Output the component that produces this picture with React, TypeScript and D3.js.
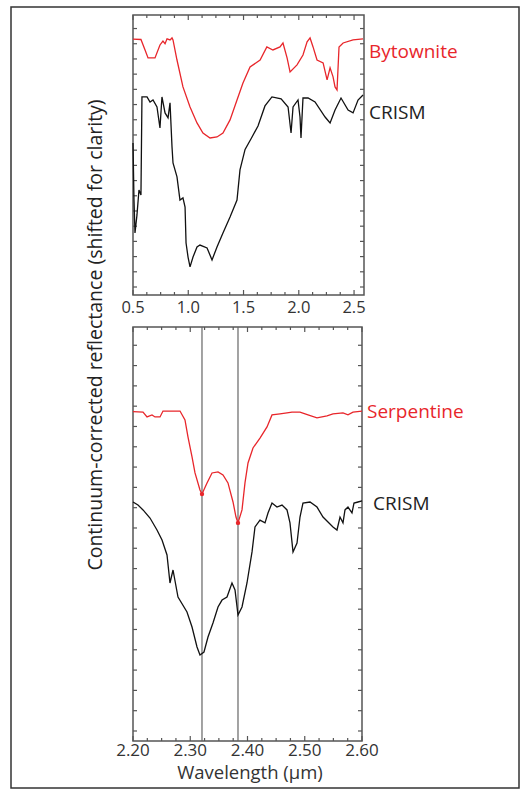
import React, { useEffect, useRef } from 'react';
import * as d3 from 'd3';

type Pt = [number, number];

// top panel: wavelength (um) vs shifted reflectance
const bytownite: Pt[] = [
  [0.5, 1.63], [0.572, 1.628], [0.609, 1.559], [0.636, 1.507], [0.699, 1.507], [0.744, 1.592],
  [0.771, 1.618], [0.79, 1.6], [0.808, 1.632], [0.835, 1.625], [0.853, 1.638], [0.862, 1.625], [0.898, 1.493],
  [0.952, 1.316], [1.016, 1.184], [1.079, 1.079], [1.133, 1.013], [1.197, 0.98], [1.26, 0.987],
  [1.314, 1.013], [1.378, 1.099], [1.441, 1.23], [1.495, 1.342], [1.559, 1.447], [1.65, 1.493],
  [1.711, 1.579], [1.766, 1.559], [1.83, 1.579], [1.857, 1.605], [1.894, 1.507], [1.921, 1.414],
  [1.984, 1.461], [2.038, 1.526], [2.075, 1.612], [2.102, 1.638], [2.129, 1.579], [2.165, 1.493],
  [2.22, 1.474], [2.256, 1.362], [2.283, 1.441], [2.31, 1.382], [2.328, 1.316], [2.346, 1.296],
  [2.364, 1.579], [2.401, 1.605], [2.491, 1.625], [2.581, 1.632],
];

const crismTop: Pt[] = [
  [0.5, 0.947], [0.509, 0.572], [0.518, 0.355], [0.536, 0.474], [0.554, 0.638], [0.572, 0.605],
  [0.581, 1.25], [0.627, 1.25], [0.654, 1.217], [0.681, 1.23], [0.717, 1.184], [0.744, 1.046],
  [0.762, 1.25], [0.79, 1.145], [0.817, 1.112], [0.835, 1.211], [0.853, 0.921], [0.862, 0.816],
  [0.898, 0.724], [0.925, 0.572], [0.952, 0.586], [0.971, 0.526], [0.98, 0.289], [0.998, 0.197],
  [1.016, 0.132], [1.043, 0.197], [1.079, 0.263], [1.106, 0.276], [1.17, 0.257], [1.215, 0.178],
  [1.26, 0.263], [1.314, 0.355], [1.378, 0.461], [1.441, 0.572], [1.468, 0.77], [1.514, 0.905],
  [1.572, 0.98], [1.631, 1.059], [1.694, 1.191], [1.757, 1.25], [1.84, 1.237], [1.903, 1.184],
  [1.93, 1.013], [1.948, 1.184], [1.993, 1.23], [2.011, 1.118], [2.02, 0.98], [2.038, 1.243],
  [2.084, 1.243], [2.147, 1.217], [2.238, 1.118], [2.283, 1.079], [2.328, 1.164], [2.382, 1.243],
  [2.446, 1.164], [2.491, 1.145], [2.536, 1.23], [2.581, 1.263],
];

// bottom panel
const serpentine: Pt[] = [
  [2.2, 1.573], [2.2175, 1.571], [2.2245, 1.547], [2.2332, 1.557], [2.2384, 1.547], [2.2472, 1.547],
  [2.2524, 1.576], [2.2821, 1.576], [2.2908, 1.532], [2.2961, 1.448], [2.3031, 1.35], [2.3083, 1.271],
  [2.317, 1.187], [2.3205, 1.167], [2.3293, 1.222], [2.338, 1.271], [2.3485, 1.276], [2.3572, 1.261],
  [2.3659, 1.222], [2.3747, 1.128], [2.3799, 1.054], [2.3834, 1.025], [2.3904, 1.089], [2.3956, 1.222],
  [2.4009, 1.32], [2.4096, 1.394], [2.4218, 1.443], [2.4341, 1.498], [2.4428, 1.557], [2.4568, 1.562],
  [2.469, 1.567], [2.4777, 1.571], [2.4917, 1.571], [2.5057, 1.557], [2.5214, 1.542], [2.5389, 1.552],
  [2.5493, 1.562], [2.5668, 1.567], [2.5755, 1.557], [2.5843, 1.571], [2.6, 1.576],
];

const crismBottom: Pt[] = [
  [2.2, 1.128], [2.2087, 1.113], [2.2175, 1.089], [2.2297, 1.049], [2.2419, 0.99], [2.2507, 0.941],
  [2.2594, 0.867], [2.2646, 0.729], [2.2699, 0.793], [2.2786, 0.66], [2.2943, 0.586], [2.3031, 0.512],
  [2.3118, 0.414], [2.317, 0.374], [2.324, 0.389], [2.331, 0.463], [2.3397, 0.532], [2.3485, 0.611],
  [2.3555, 0.645], [2.3642, 0.66], [2.3729, 0.729], [2.3782, 0.695], [2.3834, 0.571], [2.3904, 0.611],
  [2.3991, 0.729], [2.4079, 0.882], [2.4131, 1.005], [2.4218, 1.039], [2.4306, 1.025], [2.4358, 1.074],
  [2.4428, 1.123], [2.4515, 1.103], [2.4603, 1.113], [2.469, 1.089], [2.4742, 1.025], [2.4795, 0.882],
  [2.4865, 0.926], [2.4917, 1.054], [2.4969, 1.123], [2.5092, 1.128], [2.5214, 1.103], [2.5319, 1.054],
  [2.5493, 1.005], [2.5563, 0.99], [2.5616, 1.054], [2.5668, 1.025], [2.5703, 1.089], [2.5755, 1.103],
  [2.5825, 1.074], [2.586, 1.123], [2.593, 1.128], [2.6, 1.133],
];

const bandCenters = [2.3205, 2.3834];
const topTickLabels = ['0.5', '1.0', '1.5', '2.0', '2.5'];
const bottomTickLabels = ['2.20', '2.30', '2.40', '2.50', '2.60'];

const RED = '#e8262b';
const AXIS = '#555';
const FONT = '"Open Sans", sans-serif';

const App: React.FC = () => {
  const ref = useRef<SVGSVGElement | null>(null);

  useEffect(() => {
    if (!ref.current) return;
    const svg = d3.select(ref.current);
    svg.selectAll('*').remove();

    // outer frame
    svg.append('rect')
      .attr('x', 11).attr('y', 7).attr('width', 508).attr('height', 781)
      .attr('fill', 'none').attr('stroke', '#333').attr('stroke-width', 1.5);

    const drawPanel = (opts: {
      left: number; right: number; top: number; bottom: number;
      xDomain: [number, number]; yDomain: [number, number];
      majors: number[]; minorStep: number; labels: string[]; yStep: number; yMax: number;
      labelSize: number; labelDy: number;
    }) => {
      const { left, right, top, bottom } = opts;
      const x = d3.scaleLinear().domain(opts.xDomain).range([left, right]);
      const y = d3.scaleLinear().domain(opts.yDomain).range([bottom, top]);
      const g = svg.append('g');

      const minors = d3.range(opts.xDomain[0], opts.xDomain[1] + 1e-6, opts.minorStep)
        .filter((v) => !opts.majors.some((m) => Math.abs(m - v) < 1e-6));
      const yTicks = d3.range(0, opts.yMax + 1e-6, opts.yStep);

      // ticks (inward, all four sides)
      const tk = g.append('g').attr('stroke', AXIS).attr('stroke-width', 1.2);
      [...opts.majors.map((v) => [v, 5]), ...minors.map((v) => [v, 3])].forEach(([v, len]) => {
        tk.append('line').attr('x1', x(v)).attr('x2', x(v)).attr('y1', bottom).attr('y2', bottom - len);
        tk.append('line').attr('x1', x(v)).attr('x2', x(v)).attr('y1', top).attr('y2', top + len);
      });
      yTicks.forEach((v) => {
        tk.append('line').attr('x1', left).attr('x2', left + 4).attr('y1', y(v)).attr('y2', y(v));
        tk.append('line').attr('x1', right).attr('x2', right - 4).attr('y1', y(v)).attr('y2', y(v));
      });

      g.append('rect')
        .attr('x', left).attr('y', top).attr('width', right - left).attr('height', bottom - top)
        .attr('fill', 'none').attr('stroke', AXIS).attr('stroke-width', 1.5);

      g.selectAll('.xl')
        .data(opts.majors)
        .enter()
        .append('text')
        .text((_, i) => opts.labels[i])
        .attr('x', (d) => x(d))
        .attr('y', bottom + opts.labelDy)
        .attr('text-anchor', 'middle')
        .attr('font-family', FONT)
        .attr('font-size', opts.labelSize)
        .attr('fill', '#333');

      return { g, x, y };
    };

    const line = (x: d3.ScaleLinear<number, number>, y: d3.ScaleLinear<number, number>) =>
      d3.line<Pt>().x((d) => x(d[0])).y((d) => y(d[1]));

    // top panel
    const p1 = drawPanel({
      left: 133, right: 364, top: 15, bottom: 295,
      xDomain: [0.5, 2.59], yDomain: [-0.0526, 1.789],
      majors: [0.5, 1.0, 1.5, 2.0, 2.5], minorStep: 0.125, labels: topTickLabels,
      yStep: 0.1, yMax: 1.7, labelSize: 16.5, labelDy: 18,
    });
    p1.g.append('path').attr('d', line(p1.x, p1.y)(crismTop))
      .attr('fill', 'none').attr('stroke', '#111').attr('stroke-width', 1.3);
    p1.g.append('path').attr('d', line(p1.x, p1.y)(bytownite))
      .attr('fill', 'none').attr('stroke', RED).attr('stroke-width', 1.3);

    // bottom panel
    const p2 = drawPanel({
      left: 133, right: 362, top: 327, bottom: 741,
      xDomain: [2.2, 2.6], yDomain: [-0.0493, 1.99],
      majors: [2.2, 2.3, 2.4, 2.5, 2.6], minorStep: 0.025, labels: bottomTickLabels,
      yStep: 0.1, yMax: 1.9, labelSize: 17, labelDy: 15,
    });
    bandCenters.forEach((b) => {
      p2.g.append('line').attr('x1', p2.x(b)).attr('x2', p2.x(b)).attr('y1', 327).attr('y2', 741)
        .attr('stroke', '#666').attr('stroke-width', 1.2);
    });
    p2.g.append('path').attr('d', line(p2.x, p2.y)(crismBottom))
      .attr('fill', 'none').attr('stroke', '#111').attr('stroke-width', 1.3);
    p2.g.append('path').attr('d', line(p2.x, p2.y)(serpentine))
      .attr('fill', 'none').attr('stroke', RED).attr('stroke-width', 1.3);
    p2.g.selectAll('.dot')
      .data(serpentine.filter((d) => bandCenters.includes(d[0])))
      .enter()
      .append('circle')
      .attr('cx', (d) => p2.x(d[0])).attr('cy', (d) => p2.y(d[1])).attr('r', 2.2)
      .attr('fill', RED);

    // series labels
    const label = (t: string, xx: number, yy: number, c: string) =>
      svg.append('text').text(t).attr('x', xx).attr('y', yy)
        .attr('font-family', FONT).attr('font-size', 19).attr('fill', c);
    label('Bytownite', 369, 58, RED);
    label('CRISM', 369, 119, '#222');
    label('Serpentine', 367, 418, RED);
    label('CRISM', 373, 510, '#222');

    // axis titles
    svg.append('text').text('Wavelength (μm)')
      .attr('x', 250).attr('y', 779).attr('text-anchor', 'middle')
      .attr('font-family', FONT).attr('font-size', 18.5).attr('fill', '#333');
    svg.append('text').text('Continuum-corrected reflectance (shifted for clarity)')
      .attr('transform', 'translate(102,335) rotate(-90)').attr('text-anchor', 'middle')
      .attr('font-family', FONT).attr('font-size', 19.5).attr('fill', '#222');
  }, []);

  return (
    <svg
      ref={ref}
      width={530}
      height={789}
      style={{ position: 'absolute', left: 0, top: 0, background: '#fff' }}
    />
  );
};

export default App;
